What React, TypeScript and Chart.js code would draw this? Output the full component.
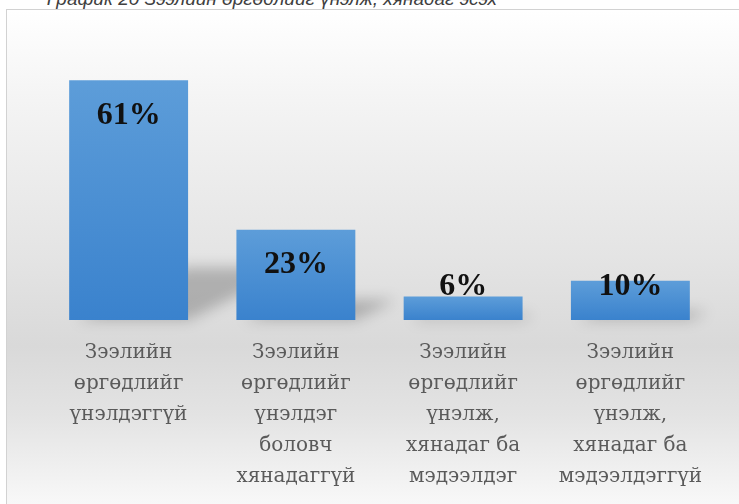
import React, { useEffect, useRef } from "react";
import { Chart, registerables } from "chart.js";

Chart.register(...registerables);

const categories: string[][] = [
  ["Зээлийн", "өргөдлийг", "үнэлдэггүй"],
  ["Зээлийн", "өргөдлийг", "үнэлдэг", "боловч", "хянадаггүй"],
  ["Зээлийн", "өргөдлийг", "үнэлж,", "хянадаг ба", "мэдээлдэг"],
  ["Зээлийн", "өргөдлийг", "үнэлж,", "хянадаг ба", "мэдээлдэггүй"],
];
const values: number[] = [61, 23, 6, 10];
const valueLabels: string[] = ["61%", "23%", "6%", "10%"];
const titleText = "График 20 Зээлийн өргөдлийг үнэлж, хянадаг эсэх";

const shadowPlugin = {
  id: "barShadow",
  beforeDatasetsDraw(chart: any) {
    const ctx = chart.ctx;
    const meta = chart.getDatasetMeta(0);
    ctx.save();
    ctx.filter = "blur(7px)";
    ctx.fillStyle = "rgba(0,0,0,0.22)";
    meta.data.forEach((bar: any) => {
      const p = bar.getProps(["x", "y", "base", "width"], true);
      const x0 = p.x - p.width / 2;
      const x1 = p.x + p.width / 2;
      const h = p.base - p.y;
      const dx = h * 0.45;
      const dy = h * 0.22;
      ctx.beginPath();
      ctx.moveTo(x0 + 8, p.base);
      ctx.lineTo(x1, p.base);
      ctx.lineTo(x1 + dx, p.base - dy);
      ctx.lineTo(x0 + 8 + dx, p.base - dy);
      ctx.closePath();
      ctx.fill();
    });
    ctx.restore();
  },
};

const labelPlugin = {
  id: "valueLabels",
  afterDatasetsDraw(chart: any) {
    const ctx = chart.ctx;
    const meta = chart.getDatasetMeta(0);
    ctx.save();
    ctx.font = "bold 32px 'Liberation Serif', serif";
    ctx.fillStyle = "#111111";
    ctx.textAlign = "center";
    ctx.textBaseline = "middle";
    meta.data.forEach((bar: any, i: number) => {
      const p = bar.getProps(["x", "y", "base"], true);
      const y = Math.min(p.y + 35, p.base - 33);
      ctx.fillText(valueLabels[i], p.x, y);
    });
    ctx.restore();
  },
};

export default function App() {
  const canvasRef = useRef<HTMLCanvasElement | null>(null);

  useEffect(() => {
    const canvas = canvasRef.current;
    if (!canvas) return;
    const chart = new Chart(canvas, {
      type: "bar",
      data: {
        labels: categories,
        datasets: [
          {
            data: values,
            backgroundColor: (c: any) => {
              const ch = c.chart;
              const ys = ch.scales && ch.scales.y;
              if (!ys || c.raw === undefined) return "#4a8fd6";
              const top = ys.getPixelForValue(c.raw);
              const base = ys.getPixelForValue(0);
              if (!isFinite(top) || !isFinite(base) || top === base) return "#4a8fd6";
              const g = ch.ctx.createLinearGradient(0, top, 0, base);
              g.addColorStop(0, "#5d9dd9");
              g.addColorStop(1, "#3a82cd");
              return g;
            },
            borderWidth: 0,
            barPercentage: 0.711,
            categoryPercentage: 1,
          },
        ],
      },
      options: {
        animation: false,
        responsive: false,
        devicePixelRatio: 1,
        layout: { padding: { top: 35, left: 38, right: 33, bottom: 0 } },
        plugins: {
          legend: { display: false },
          tooltip: { enabled: false },
          title: { display: false },
        },
        scales: {
          x: {
            grid: { display: false, drawTicks: false },
            border: { display: false },
            afterFit: (scale: any) => {
              scale.height = 184;
            },
            ticks: {
              color: "#5a5a5a",
              font: { family: "'DejaVu Serif', serif", size: 20, lineHeight: 1.55 },
              padding: 17,
              maxRotation: 0,
              minRotation: 0,
              autoSkip: false,
            },
          },
          y: {
            display: false,
            min: 0,
            max: 70,
          },
        },
      },
      plugins: [shadowPlugin, labelPlugin],
    });
    return () => chart.destroy();
  }, []);

  return (
    <div
      style={{
        position: "fixed",
        left: 0,
        top: 0,
        width: 739,
        height: 504,
        overflow: "hidden",
        background: "#ffffff",
      }}
    >
      <div
        style={{
          position: "absolute",
          right: 242,
          top: -11,
          whiteSpace: "nowrap",
          fontFamily: "'Liberation Sans', Arial, sans-serif",
          fontStyle: "italic",
          fontSize: 19,
          lineHeight: "19px",
          color: "#404040",
        }}
      >
        {titleText}
      </div>
      <div
        style={{
          position: "absolute",
          left: 6,
          top: 9,
          width: 740,
          height: 494,
          border: "1px solid #d2d2d2",
          background:
            "linear-gradient(180deg, #ffffff 0%, #f3f3f3 20%, #e4e4e4 50%, #d9d9d9 68%, #e3e3e3 82%, #f8f8f8 100%)",
        }}
      >
        <canvas ref={canvasRef} width={740} height={494} style={{ display: "block", width: 740, height: 494 }} />
      </div>
    </div>
  );
}
